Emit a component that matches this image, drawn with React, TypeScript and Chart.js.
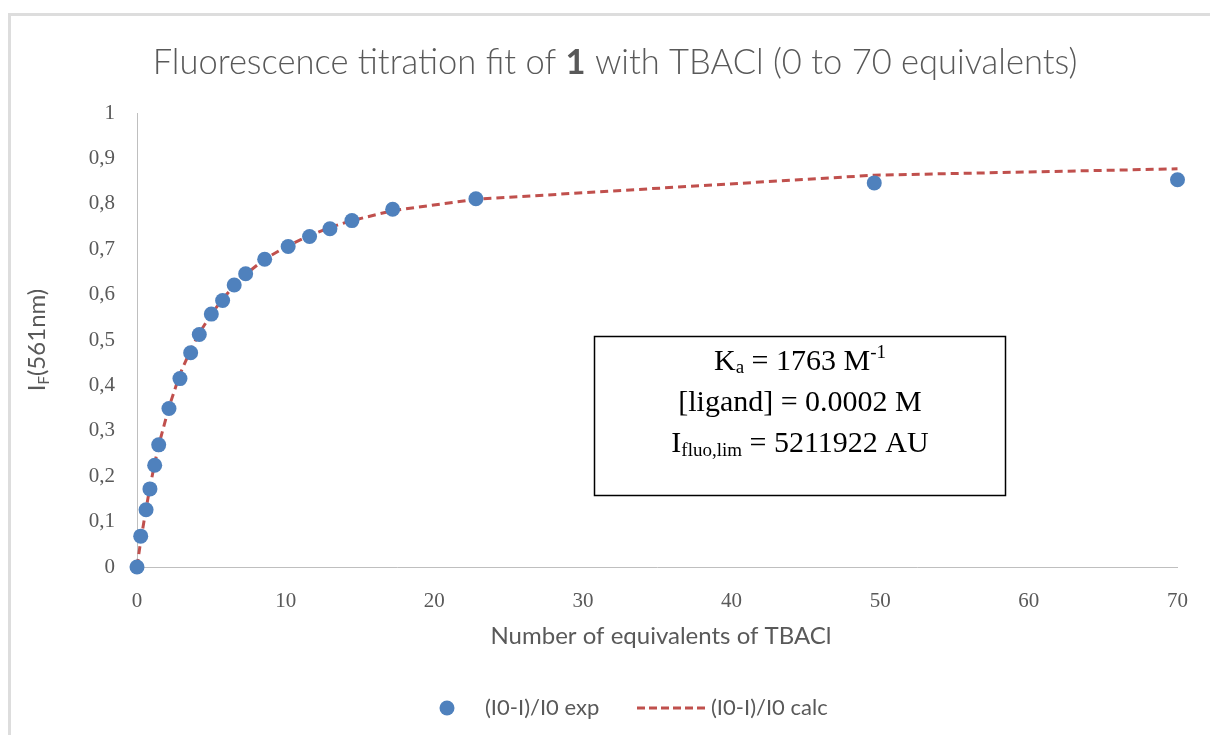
import React, { useEffect, useRef } from "react";
import { Chart, registerables } from "chart.js";

Chart.register(...registerables);

// Data
const equivalents = [0, 0.25, 0.61, 0.87, 1.19, 1.46, 2.15, 2.89, 3.61, 4.19, 5.0, 5.76, 6.54, 7.31, 8.59, 10.17, 11.61, 12.98, 14.46, 17.2, 22.8, 49.6, 70];
const expValues = [0, 0.068, 0.126, 0.172, 0.224, 0.269, 0.349, 0.415, 0.472, 0.512, 0.557, 0.587, 0.621, 0.646, 0.678, 0.706, 0.728, 0.745, 0.763, 0.788, 0.811, 0.846, 0.853];
const calcValues = [0, 0.058, 0.128, 0.176, 0.228, 0.268, 0.352, 0.425, 0.478, 0.515, 0.557, 0.59, 0.62, 0.645, 0.678, 0.708, 0.73, 0.748, 0.763, 0.785, 0.81, 0.863, 0.877];

const titleParts = ["Fluorescence titration fit of ", "1", " with TBACl (0 to 70 equivalents)"];
const xAxisTitle = "Number of equivalents of TBACl";
const yAxisTitleParts = ["I", "F", "(561nm)"];
const expLabel = "(I0-I)/I0 exp";
const calcLabel = "(I0-I)/I0 calc";
const xTickStep = 10;
const yTickStep = 0.1;

const GRAY = "#595959";
const BLUE = "#4F81BD";
const RED = "#C0504D";
const SANS = "Lato, 'Open Sans', sans-serif";
const SERIF = "'Liberation Serif', 'Times New Roman', serif";

type Seg = { text: string; font: string; dy?: number };

function drawRich(ctx: CanvasRenderingContext2D, segs: Seg[], cx: number, y: number) {
  let total = 0;
  for (const s of segs) {
    ctx.font = s.font;
    total += ctx.measureText(s.text).width;
  }
  let x = cx - total / 2;
  ctx.textAlign = "left";
  ctx.textBaseline = "alphabetic";
  for (const s of segs) {
    ctx.font = s.font;
    ctx.fillText(s.text, x, y + (s.dy || 0));
    x += ctx.measureText(s.text).width;
  }
}

const decorPlugin = {
  id: "decor",
  beforeDraw(chart: any) {
    const ctx: CanvasRenderingContext2D = chart.ctx;
    ctx.save();
    ctx.fillStyle = "#ffffff";
    ctx.fillRect(0, 0, chart.width, chart.height);
    // outer chart border (top & left visible)
    ctx.strokeStyle = "#DDDDDD";
    ctx.lineWidth = 3;
    ctx.beginPath();
    ctx.moveTo(9.5, chart.height + 5);
    ctx.lineTo(9.5, 14.5);
    ctx.lineTo(chart.width + 5, 14.5);
    ctx.stroke();
    ctx.restore();
  },
  afterDraw(chart: any) {
    const ctx: CanvasRenderingContext2D = chart.ctx;
    const area = chart.chartArea;
    ctx.save();
    ctx.fillStyle = GRAY;
    // title
    drawRich(
      ctx,
      [
        { text: titleParts[0], font: `300 34.5px ${SANS}` },
        { text: titleParts[1], font: `bold 34.5px ${SANS}` },
        { text: titleParts[2], font: `300 34.5px ${SANS}` },
      ],
      615,
      74
    );
    // x axis title
    drawRich(ctx, [{ text: xAxisTitle, font: `24px ${SANS}` }], 661, 644);
    // y axis title (rotated)
    ctx.save();
    ctx.translate(45, 340);
    ctx.rotate(-Math.PI / 2);
    drawRich(
      ctx,
      [
        { text: yAxisTitleParts[0], font: `24px ${SANS}` },
        { text: yAxisTitleParts[1], font: `15px ${SANS}`, dy: 4 },
        { text: yAxisTitleParts[2], font: `24px ${SANS}` },
      ],
      0,
      0
    );
    ctx.restore();
    // legend
    const ly = 708;
    ctx.fillStyle = BLUE;
    ctx.beginPath();
    ctx.arc(447, ly, 7.5, 0, Math.PI * 2);
    ctx.fill();
    ctx.fillStyle = GRAY;
    ctx.font = `22px ${SANS}`;
    ctx.textAlign = "left";
    ctx.textBaseline = "middle";
    ctx.fillText(expLabel, 485, ly);
    ctx.strokeStyle = RED;
    ctx.lineWidth = 3;
    ctx.setLineDash([8, 4]);
    ctx.beginPath();
    ctx.moveTo(637, ly);
    ctx.lineTo(707, ly);
    ctx.stroke();
    ctx.setLineDash([]);
    ctx.fillText(calcLabel, 711, ly);
    ctx.restore();
  },
  afterDatasetsDraw(chart: any) {
    const ctx: CanvasRenderingContext2D = chart.ctx;
    ctx.save();
    // text box
    ctx.fillStyle = "#ffffff";
    ctx.fillRect(594, 336, 411, 159);
    ctx.strokeStyle = "#000000";
    ctx.lineWidth = 1.5;
    ctx.strokeRect(594.5, 336.5, 411, 159);
    ctx.fillStyle = "#000000";
    const cx = 800;
    drawRich(
      ctx,
      [
        { text: "K", font: `30px ${SERIF}` },
        { text: "a", font: `19px ${SERIF}`, dy: 3 },
        { text: " = 1763 M", font: `30px ${SERIF}` },
        { text: "-1", font: `19px ${SERIF}`, dy: -12 },
      ],
      cx,
      370
    );
    drawRich(ctx, [{ text: "[ligand] = 0.0002 M", font: `30px ${SERIF}` }], cx, 411);
    drawRich(
      ctx,
      [
        { text: "I", font: `30px ${SERIF}` },
        { text: "fluo,lim", font: `19px ${SERIF}`, dy: 4 },
        { text: " = 5211922 AU", font: `30px ${SERIF}` },
      ],
      cx,
      452
    );
    ctx.restore();
  },
};

export default function App() {
  const canvasRef = useRef<HTMLCanvasElement | null>(null);

  useEffect(() => {
    const canvas = canvasRef.current;
    if (!canvas) return;
    const expData = equivalents.map((x, i) => ({ x, y: expValues[i] }));
    const calcData = equivalents.map((x, i) => ({ x, y: calcValues[i] }));
    const chart = new Chart(canvas, {
      type: "scatter",
      data: {
        datasets: [
          {
            label: expLabel,
            data: expData,
            showLine: false,
            pointRadius: 7.5,
            pointHoverRadius: 7.5,
            pointBackgroundColor: BLUE,
            pointBorderColor: BLUE,
            pointBorderWidth: 0,
            clip: false,
          } as any,
          {
            label: calcLabel,
            type: "line",
            data: calcData,
            showLine: true,
            pointRadius: 0,
            borderColor: RED,
            borderWidth: 3,
            borderDash: [8, 5],
            tension: 0,
            fill: false,
            clip: false,
          } as any,
        ],
      },
      options: {
        animation: false,
        responsive: false,
        devicePixelRatio: 1,
        layout: { padding: { top: 113, right: 32, left: 0, bottom: 0 } },
        plugins: {
          legend: { display: false },
          title: { display: false },
          tooltip: { enabled: false },
        },
        scales: {
          x: {
            type: "linear",
            min: 0,
            max: 70,
            grid: { display: false, drawTicks: false },
            border: { display: true, color: "#BFBFBF", width: 1 },
            ticks: {
              stepSize: xTickStep,
              color: GRAY,
              padding: 22,
              font: { family: SERIF, size: 21 },
              maxRotation: 0,
            },
            afterFit: (scale: any) => {
              scale.height = 168;
            },
          },
          y: {
            type: "linear",
            min: 0,
            max: 1,
            grid: { display: false, drawTicks: false },
            border: { display: true, color: "#BFBFBF", width: 1 },
            ticks: {
              stepSize: yTickStep,
              color: GRAY,
              padding: 22,
              font: { family: SERIF, size: 21 },
              callback: (v: any) => {
                const n = Number(v);
                if (Math.abs(n) < 1e-9) return "0";
                if (Math.abs(n - 1) < 1e-9) return "1";
                return n.toFixed(1).replace(".", ",");
              },
            },
            afterFit: (scale: any) => {
              scale.width = 137;
            },
          },
        },
      },
      plugins: [decorPlugin],
    });
    return () => chart.destroy();
  }, []);

  return (
    <div style={{ position: "absolute", left: 0, top: 0, width: 1210, height: 735, background: "#fff" }}>
      <canvas ref={canvasRef} width={1210} height={735} style={{ display: "block" }} />
    </div>
  );
}
